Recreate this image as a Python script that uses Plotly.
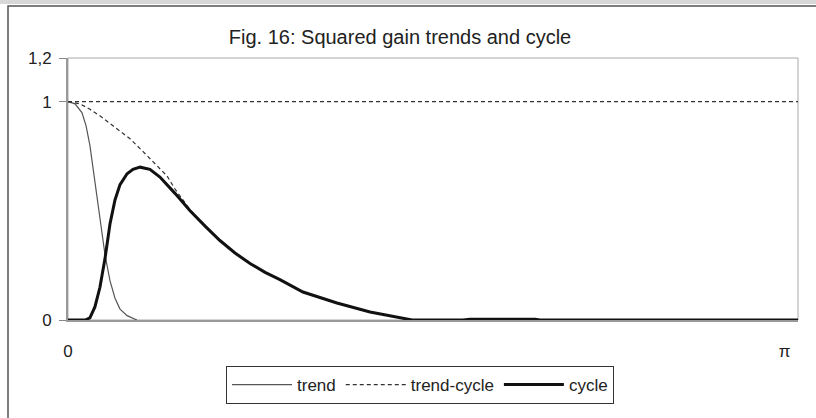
import plotly.graph_objects as go

# Frequency axis (radians, 0..pi) and squared gains
trend_x = [0.000, 0.031, 0.061, 0.079, 0.096, 0.118, 0.140, 0.162, 0.184, 0.206, 0.228, 0.259, 0.302]
trend_y = [1.00, 0.99, 0.95, 0.89, 0.80, 0.64, 0.46, 0.30, 0.18, 0.10, 0.05, 0.02, 0.00]

trendcycle_x = [0.000, 0.053, 0.096, 0.140, 0.184, 0.228, 0.272, 0.316, 0.359, 0.403, 0.434, 0.469,
                0.535, 0.601, 0.666, 0.732, 0.798, 0.864, 0.929, 1.030, 1.179, 1.324, 1.455, 1.508, 3.200]
trendcycle_y = [1.00, 0.99, 0.965, 0.935, 0.90, 0.865, 0.83, 0.785, 0.74, 0.69, 0.66, 0.60,
                0.505, 0.43, 0.364, 0.307, 0.259, 0.218, 0.185, 0.128, 0.078, 0.037, 0.009, 0.0, 0.0]

cycle_x = [0.000, 0.075, 0.096, 0.118, 0.140, 0.162, 0.184, 0.206, 0.228, 0.259, 0.285, 0.316,
           0.359, 0.403, 0.469, 0.535, 0.601, 0.666, 0.732, 0.798, 0.864, 0.929, 1.030, 1.179,
           1.324, 1.455, 1.508, 1.732, 1.762, 2.047, 2.069, 3.200]
cycle_y = [0.0, 0.0, 0.01, 0.06, 0.15, 0.28, 0.44, 0.55, 0.62, 0.67, 0.69, 0.70,
           0.69, 0.655, 0.58, 0.50, 0.43, 0.364, 0.307, 0.259, 0.218, 0.185, 0.128, 0.078,
           0.037, 0.009, 0.0, 0.0, 0.004, 0.004, 0.0, 0.0]

x_tick_vals = [0, 3.14159]
x_tick_text = ["0", "π"]
y_tick_vals = [0, 1, 1.2]
y_tick_text = ["0", "1", "1,2"]
reference_level = 1.0

FONT = "Liberation Sans, Arial, sans-serif"

fig = go.Figure()
fig.add_trace(go.Scatter(x=trend_x, y=trend_y, mode="lines", name="trend",
                         line=dict(color="#555555", width=1.2)))
fig.add_trace(go.Scatter(x=trendcycle_x, y=trendcycle_y, mode="lines", name="trend-cycle",
                         line=dict(color="#333333", width=1.2, dash="4px,3px")))
fig.add_trace(go.Scatter(x=cycle_x, y=cycle_y, mode="lines", name="cycle",
                         line=dict(color="#111111", width=3)))

W, H = 816, 418
L, R, T, B = 68, 18, 58, 98
PW, PH = W - L - R, H - T - B

fig.update_layout(
    width=W, height=H,
    margin=dict(l=L, r=R, t=T, b=B, autoexpand=False),
    paper_bgcolor="white", plot_bgcolor="white",
    font=dict(family=FONT, color="#222222", size=17),
    title=dict(text="Fig. 16: Squared gain trends and cycle",
               x=400 / W, xref="container", xanchor="center",
               y=1 - 37 / H, yref="container", yanchor="middle",
               font=dict(family=FONT, size=20, color="#222222")),
    showlegend=True,
    legend=dict(orientation="h", x=(420 - L) / PW, xanchor="center",
                y=(320 - 385) / PH, yanchor="middle",
                bordercolor="#333333", borderwidth=1, bgcolor="white",
                font=dict(family=FONT, size=17, color="#222222"),
                itemwidth=60, tracegroupgap=0),
    xaxis=dict(range=[0, 3.2], tickvals=x_tick_vals, ticktext=x_tick_text,
               showgrid=False, zeroline=False, showline=True, linecolor="#999999",
               linewidth=2, ticks="", ticklabelstandoff=15, automargin=False,
               tickfont=dict(family=FONT, size=17, color="#222222")),
    yaxis=dict(range=[0, 1.2], tickvals=y_tick_vals, ticktext=y_tick_text,
               showgrid=False, zeroline=False, showline=True, linecolor="#999999",
               linewidth=2, ticks="outside", ticklen=7, tickcolor="#888888",
               ticklabelstandoff=4, automargin=False,
               tickfont=dict(family=FONT, size=17, color="#222222")),
    shapes=[
        # plot area frame
        dict(type="rect", xref="paper", yref="paper", x0=0, x1=1, y0=0, y1=1,
             line=dict(color="#aaaaaa", width=1), layer="below"),
        # dashed level line at 1
        dict(type="line", xref="paper", yref="y", x0=0, x1=1, y0=reference_level, y1=reference_level,
             line=dict(color="#333333", width=1.2, dash="4px,3px")),
        # outer chart border (cropped at right/bottom)
        dict(type="rect", xref="paper", yref="paper",
             x0=(8 - L) / PW, x1=(W + 20 - L) / PW,
             y0=(320 - (H + 20)) / PH, y1=(320 - 6) / PH,
             line=dict(color="#555555", width=1.5), layer="below"),
        # grey strip along the top edge
        dict(type="rect", xref="paper", yref="paper",
             x0=-L / PW, x1=(W - L) / PW,
             y0=(320 - 4) / PH, y1=320 / PH,
             fillcolor="#d8d8d8", line=dict(width=0), layer="below"),
    ],
)

fig.write_html("out.html",
               config={"displayModeBar": False},
               post_script="document.body.style.margin='0';document.body.style.overflow='hidden';")
